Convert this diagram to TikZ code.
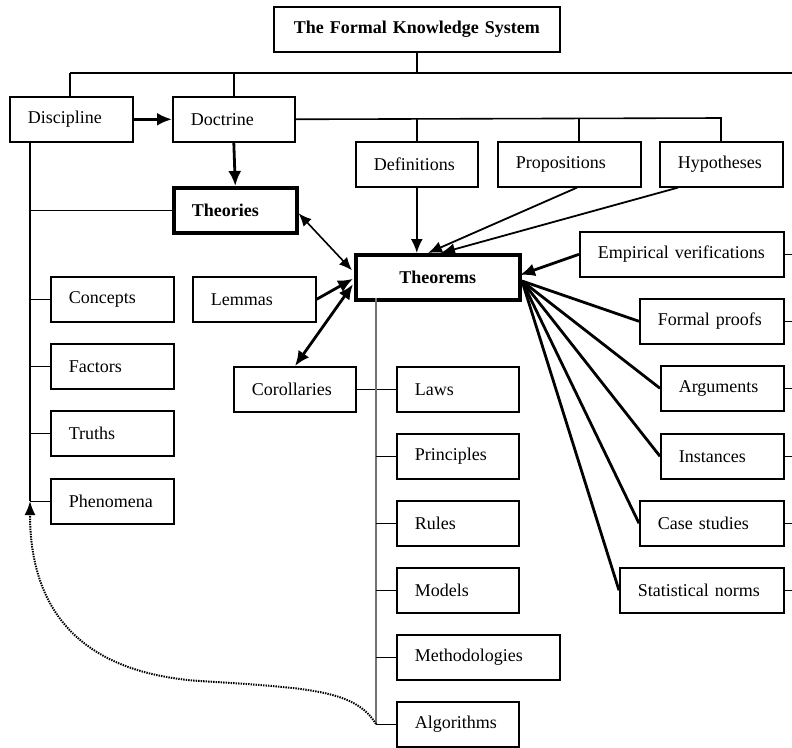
\documentclass[tikz,border=0pt]{standalone}
\usepackage{fontspec}
\setmainfont{Liberation Serif}
\usetikzlibrary{arrows.meta}
\begin{document}
\begin{tikzpicture}[x=1pt,y=-1pt,
  bx/.style={draw, line width=1.6pt, anchor=north west, minimum height=45pt,
    inner xsep=18pt, inner ysep=0pt, align=left, text width=#1,
    font=\fontsize{18pt}{21pt}\selectfont},
  bbx/.style={bx=#1, line width=3.6pt, font=\fontsize{18pt}{21pt}\selectfont\bfseries},
  ln/.style={line width=1.6pt},
  mid/.style={line width=1.8pt},
  thk/.style={line width=2.8pt},
  bigtip/.style={-{Latex[length=15pt,width=13pt]}},
  bigtips/.style={{Latex[length=15pt,width=13pt]}-{Latex[length=15pt,width=13pt]}},
  smtip/.style={-{Latex[length=14pt,width=12pt]}},
  smtips/.style={{Latex[length=13pt,width=11pt]}-{Latex[length=13pt,width=11pt]}},
  grayline/.style={line width=1.1pt, black!55},
  dotline/.style={line width=2pt, dash pattern=on 1.4pt off 1.1pt, -{Latex[length=14pt,width=11pt]}}
]
\useasboundingbox (0,0) rectangle (792,747);

% top
\node[bx=250pt, align=center, font=\fontsize{18pt}{21pt}\selectfont\bfseries] (title) at (273,6) {The Formal Knowledge System};
\node[bx=87pt] (disc) at (9,96) {Discipline};
\node[bx=86pt] (doct) at (172,96) {Doctrine};
\node[bx=86pt] (defs) at (355,141) {Definitions};
\node[bx=107pt] (props) at (497,141) {Propositions};
\node[bx=87pt] (hyps) at (659,141) {Hypotheses};
\node[bbx=87pt] (theories) at (172,186) {Theories};
\node[bbx=128pt, align=center] (thm) at (354,253) {Theorems};

% left column
\node[bx=87pt] (concepts) at (50,276) {Concepts};
\node[bx=87pt] (factors) at (50,343) {Factors};
\node[bx=87pt] (truths) at (50,410) {Truths};
\node[bx=87pt] (phen) at (50,478) {Phenomena};

\node[bx=87pt] (lemmas) at (192,276) {Lemmas};
\node[bx=86pt] (coroll) at (233,366) {Corollaries};

% middle column
\node[bx=86pt] (laws) at (396,366) {Laws};
\node[bx=86pt] (princ) at (396,433) {Principles};
\node[bx=86pt] (rules) at (396,500) {Rules};
\node[bx=86pt] (models) at (396,567) {Models};
\node[bx=127pt] (meth) at (396,634) {Methodologies};
\node[bx=86pt] (algs) at (396,701) {Algorithms};

% right column
\node[bx=168pt] (emp) at (579,231) {Empirical verifications};
\node[bx=108pt] (formal) at (639,298) {Formal proofs};
\node[bx=87pt] (args) at (660,365) {Arguments};
\node[bx=87pt] (inst) at (660,433) {Instances};
\node[bx=108pt] (cases) at (639,500) {Case studies};
\node[bx=128pt] (stat) at (619,567) {Statistical norms};

% coordinates
\coordinate (busL) at (70,73);
\coordinate (busR) at (792,73);
\coordinate (dbusR) at (721,118);
\coordinate (propsdrop) at (579,118);
\coordinate (lbot) at (30,501);
\coordinate (vtop) at (376,298);
\coordinate (vbot) at (376,724);
\coordinate (hubE) at (520,275);
\coordinate (hub) at (522,281);

% top bus
\draw[ln] (title.south) -- (title.south |- busL);
\draw[ln] (busL) -- (busR);
\draw[ln] (busL) -- (busL |- disc.north);
\draw[ln] (doct.north |- busL) -- (doct.north);
\draw[thk, bigtip] (disc.east) -- (doct.west);
\draw[thk, bigtip] (doct.south) -- (theories.north);

% doctrine bus
\draw[ln] (doct.east) -- (dbusR) -- (dbusR |- hyps.north);
\draw[ln] (defs.north |- doct.east) -- (defs.north);
\draw[ln] (propsdrop) -- (propsdrop |- props.north);

% into theorems from top
\draw[mid, smtip] (defs.south) -- (defs.south |- thm.north);
\draw[mid, smtip] ([xshift=80pt]props.south west) -- ([xshift=74pt]thm.north west);
\draw[mid, smtip] ([xshift=19pt]hyps.south west) -- ([xshift=87pt]thm.north west);

% theories <-> theorems
\draw[ln, smtips] ([yshift=-3pt]theories.east) -- ([xshift=-2pt,yshift=7pt]thm.west);

% lemmas, corollaries
\draw[thk, bigtip] (lemmas.east) -- ([xshift=-1pt,yshift=-1.5pt]thm.west);
\draw[thk, bigtips] ([xshift=62pt]coroll.north west) -- ([xshift=-1pt,yshift=-7pt]thm.west);
\draw[ln] (coroll.east) -- (laws.west);

% left spine
\draw[ln] (disc.south -| lbot) -- (lbot);
\draw[ln] (lbot |- theories.west) -- (theories.west);
\draw[ln] (lbot |- concepts.west) -- (concepts.west);
\draw[ln] (lbot |- factors.west) -- (factors.west);
\draw[ln] (lbot |- truths.west) -- (truths.west);
\draw[ln] (lbot |- phen.west) -- (phen.west);

% middle spine
\draw[grayline] (vtop) -- (vbot);
\draw[ln] (vtop |- princ.west) -- (princ.west);
\draw[ln] (vtop |- rules.west) -- (rules.west);
\draw[ln] (vtop |- models.west) -- (models.west);
\draw[ln] (vtop |- meth.west) -- (meth.west);
\draw[ln] (vtop |- algs.west) -- (algs.west);

% right fan
\draw[thk, bigtip] (emp.west) -- (hubE);
\draw[thk] (formal.west) -- (hub);
\draw[thk] (args.west) -- (hub);
\draw[thk] (inst.west) -- (hub);
\draw[thk] (cases.west) -- (hub);
\draw[thk] (stat.west) -- (hub);

% right stubs
\draw[ln] (emp.east) -- (emp.east -| busR);
\draw[ln] (formal.east) -- (formal.east -| busR);
\draw[ln] (args.east) -- (args.east -| busR);
\draw[ln] (inst.east) -- (inst.east -| busR);
\draw[ln] (cases.east) -- (cases.east -| busR);
\draw[ln] (stat.east) -- (stat.east -| busR);

% dotted feedback
\draw[dotline] (vbot) .. controls (355,690) and (310,688) .. (200,681)
  .. controls (70,672) and (30,600) .. (lbot);
\end{tikzpicture}
\end{document}
